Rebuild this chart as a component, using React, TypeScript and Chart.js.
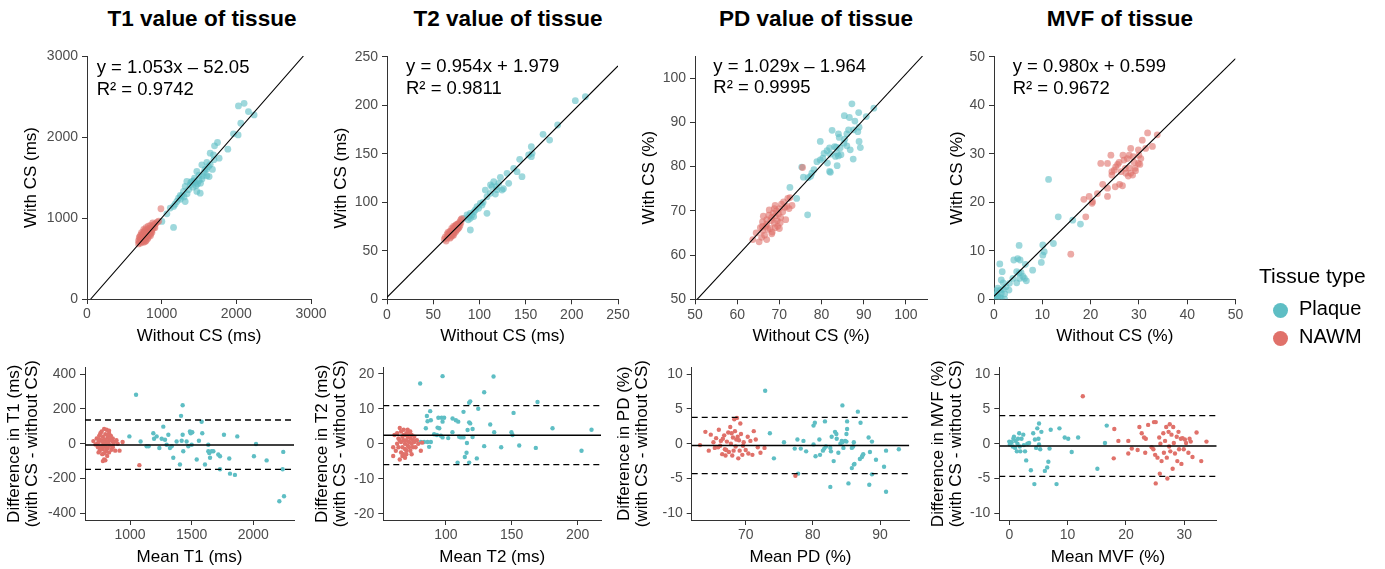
import React, { useEffect, useRef } from "react";
import { Chart, registerables } from "chart.js";
Chart.register(...registerables);

const FONT = "'Liberation Sans', Arial, Helvetica, sans-serif";
const PLAQUE = "rgb(94,190,196)";
const NAWM = "rgb(224,113,106)";
const PLAQUE_A = "rgba(94,190,196,0.6)";
const NAWM_A = "rgba(224,113,106,0.6)";

// ---------- titles / labels ----------
const panelTitles = ["T1 value of tissue", "T2 value of tissue", "PD value of tissue", "MVF of tissue"];
const scatterXTitles = ["Without CS (ms)", "Without CS (ms)", "Without CS (%)", "Without CS (%)"];
const scatterYTitles = ["With CS (ms)", "With CS (ms)", "With CS (%)", "With CS (%)"];
const baXTitles = ["Mean T1 (ms)", "Mean T2 (ms)", "Mean PD (%)", "Mean MVF (%)"];
const baYTitles = [
  ["Difference in T1 (ms)", "(with CS - without CS)"],
  ["Difference in T2 (ms)", "(with CS - without CS)"],
  ["Difference in PD (%)", "(with CS - without CS)"],
  ["Difference in MVF (%)", "(with CS - without CS)"],
];
const legendTitle = "Tissue type";
const legendLabels = ["Plaque", "NAWM"];

// ---------- ticks ----------
const t1ScatterTicks = [0, 1000, 2000, 3000];
const t2ScatterTicks = [0, 50, 100, 150, 200, 250];
const pdScatterTicks = [50, 60, 70, 80, 90, 100];
const mvfScatterTicks = [0, 10, 20, 30, 40, 50];
const t1BaXTicks = [1000, 1500, 2000];
const t1BaYTicks = [-400, -200, 0, 200, 400];
const t2BaXTicks = [100, 150, 200];
const t2BaYTicks = [-20, -10, 0, 10, 20];
const pdBaXTicks = [70, 80, 90];
const mvfBaXTicks = [0, 10, 20, 30];
const pctBaYTicks = [-10, -5, 0, 5, 10];

// ---------- regression fits ----------
const fitSlopes = [1.053, 0.954, 1.029, 0.98];
const fitIntercepts = [-52.05, 1.979, -1.964, 0.599];
const fitR2 = ["0.9742", "0.9811", "0.9995", "0.9672"];

// ---------- Bland-Altman stats ----------
const baMean = [-7, 2.45, -0.26, -0.33];
const baUpper = [136, 10.9, 3.79, 4.03];
const baLower = [-147, -5.95, -4.3, -4.68];

// ---------- T1 scatter ----------
const t1ScatterPlaque = [
  [2028, 2384], [2104, 2416], [2162, 2314], [2238, 2273], [2060, 2170], [1962, 2039], [2024, 2026], [1886, 1850],
  [1748, 1932], [1708, 1891], [1650, 1800], [1770, 1739], [1694, 1780], [1605, 1685], [1538, 1656], [1627, 1636],
  [1569, 1562], [1605, 1521], [1636, 1512], [1471, 1574], [1440, 1492], [1404, 1451], [1337, 1451], [1315, 1389],
  [1382, 1410], [1471, 1328], [1516, 1307], [1292, 1328], [1270, 1274], [1226, 1245], [1204, 1204], [1315, 1204],
  [1159, 1143], [1115, 1122], [1070, 1052], [1003, 958], [1159, 884], [1500, 1460], [1520, 1430], [1480, 1420],
  [1450, 1440], [1540, 1480], [1420, 1380], [1360, 1350], [1340, 1300], [1300, 1260], [1250, 1230], [1580, 1600],
  [1650, 1660], [1700, 1720], [1550, 1520], [1460, 1400], [1390, 1440], [1600, 1600], [1680, 1600], [1250, 1280],
  [1180, 1170], [1430, 1460], [1500, 1530],
];
const t1ScatterNawm = [
  [700, 700], [720, 690], [690, 720], [740, 710], [760, 700], [710, 740], [730, 760], [750, 740], [770, 730],
  [780, 760], [760, 780], [740, 800], [720, 790], [800, 770], [790, 800], [810, 790], [770, 820], [800, 830],
  [820, 810], [830, 840], [780, 850], [760, 830], [750, 790], [840, 820], [850, 860], [860, 880], [870, 850],
  [880, 900], [900, 920], [920, 930], [940, 950], [910, 880], [830, 870], [810, 860], [790, 720], [820, 760],
  [850, 800], [700, 760], [730, 820], [760, 860], [790, 880], [820, 900], [850, 910], [880, 940], [960, 960],
  [770, 770], [740, 740], [800, 800], [830, 790], [860, 830], [880, 870], [900, 890], [720, 730], [690, 680],
  [710, 770], [780, 710], [850, 780], [870, 820], [760, 750], [810, 740], [990, 1114],
];

// ---------- T2 scatter ----------
const t2ScatterPlaque = [
  [203.8, 204.7], [214.7, 208.8], [184.7, 179.6], [168.9, 170], [176, 164.1], [156.2, 157.3], [157, 150.4],
  [153.3, 148.7], [156.2, 147], [143.6, 144.2], [137.1, 135], [140.7, 131.5], [129.9, 129.8], [131.7, 119.5],
  [146.1, 126.4], [122.7, 125.7], [120.9, 119.5], [124.5, 112.6], [118.3, 116.1], [115.5, 121.2], [113.6, 116.1],
  [111.8, 109.2], [108.2, 105.8], [106.4, 112.6], [117.3, 108.5], [108.2, 88.6], [101, 98.9], [97.4, 95.5],
  [95.6, 92], [90.2, 88.6], [86.6, 86.9], [90.2, 83.4], [93.8, 85.2], [83, 83.4], [90.2, 71.4], [99.2, 93.7],
  [102.8, 97.2], [92, 86.9], [88.4, 85.2], [119, 113], [126, 114], [112, 118], [104, 100], [94, 90], [88, 82],
];
const t2ScatterNawm = [
  [62, 62], [64, 60], [66, 65], [68, 63], [65, 67], [67, 68], [70, 66], [69, 70], [72, 68], [71, 72], [73, 70],
  [74, 73], [75, 71], [76, 74], [77, 76], [78, 78], [79, 80], [80, 82], [74, 76], [72, 75], [70, 73], [68, 70],
  [66, 69], [63, 64], [67, 66], [69, 67], [71, 69], [73, 72], [75, 75], [77, 78], [78, 74], [76, 72], [74, 69],
  [72, 66], [70, 68], [68, 66], [65, 63], [80, 79], [79, 76], [81, 83], [73, 74], [75, 77], [70, 70], [72, 71],
  [76, 77], [71, 66], [69, 64], [77, 73],
];

// ---------- PD scatter ----------
const pdScatterPlaque = [
  [87.2, 94.2], [85.4, 91.5], [86.6, 91.1], [88.8, 92.2], [87.9, 90.3], [92.4, 93.2], [90.6, 91.3], [88.9, 88.9],
  [88.6, 87.9], [87.6, 88.3], [86.4, 88.3], [86, 87.4], [84, 87.4], [84.2, 86.6], [82.5, 88.2], [85.5, 86.2],
  [88.9, 85.7], [89.2, 84.3], [85.3, 85.3], [83.1, 84.5], [83.5, 84.4], [84.4, 84.2], [86, 84.7], [86.8, 83.8],
  [87.5, 81.7], [81.9, 84.2], [81.3, 83.6], [80.6, 83], [82.1, 82.8], [83.7, 83], [84, 82.4], [84.6, 82.7],
  [79.7, 85.7], [80.3, 81.9], [83.3, 82.3], [81.4, 80.8], [79.7, 81.5], [78.9, 81.1], [83.7, 80.2], [81.9, 78.9],
  [82.1, 78.7], [78.2, 79.3], [77.7, 78.5], [77.4, 77.8], [76.8, 77.5], [75.3, 79.9], [75.7, 77.6], [72.5, 75.3],
  [74.1, 72.8], [76.7, 69.1],
];
const pdScatterNawm = [
  [63.7, 63.5], [64.5, 65], [65.2, 63], [65.5, 66.2], [66, 65.5], [66, 67.5], [66.5, 64.5], [66.8, 66.5], [67, 68],
  [67, 67], [67.3, 65.8], [67.5, 69], [67.8, 66], [68, 67.8], [68.2, 68.5], [68.3, 65.2], [68.5, 69.5], [68.8, 67.2],
  [69, 68.8], [69, 66.2], [69.3, 70], [69.5, 67.8], [69.8, 69.3], [70, 66], [70, 70.5], [70.3, 68.5], [70.5, 71.5],
  [70.8, 69.8], [71, 72], [71.3, 70.8], [71.5, 68], [71.8, 71], [72, 72.8], [72.3, 70.5], [72.5, 73], [73, 71.2],
  [66.2, 68.8], [67.6, 70.2], [68.8, 70.5], [69.6, 66.5], [65.8, 64], [70.2, 67.3], [68.2, 64.8], [67, 63.5],
  [66, 66.5], [69, 71.2], [75.5, 79.8],
];

// ---------- MVF scatter ----------
const mvfScatterPlaque = [
  [11.3, 24.7], [13.3, 17], [16.3, 16.3], [17.9, 15.5], [10.1, 11.2], [10.4, 9.8], [10.1, 9.1], [9.8, 7.6],
  [12.3, 11.5], [5.2, 11.1], [1.2, 7.3], [4.1, 8.1], [4.9, 8.4], [5.4, 8.1], [6.5, 7.2], [8, 6], [1.7, 5.7],
  [4.7, 5.7], [5.2, 5.4], [5.6, 5.5], [6, 4.7], [6.3, 4.3], [6.7, 3.8], [5.3, 4.3], [4.7, 3.4], [3.9, 4.3],
  [1.5, 4], [1.9, 3.4], [2.5, 2.6], [3.2, 3.3], [3.1, 1.9], [2.2, 1.1], [1.5, 1.2], [0.8, 2.3], [0.5, 1.8],
  [0.3, 0.9], [0.8, 0.5], [1.2, 0.4], [0.5, 0.2], [1.5, 0.2], [2.2, 0.05], [0.1, 0.5], [0.7, 1.2], [1.3, 1.9],
  [1.9, 2.1],
];
const mvfScatterNawm = [
  [15.9, 9.3], [18.6, 20.6], [19, 17], [19.7, 21.2], [20.4, 20.1], [20.3, 19.8], [21.4, 21.8], [22.5, 23.7],
  [22.1, 28], [23.5, 28], [23.5, 22.9], [23.5, 21.2], [24.2, 29.7], [24.4, 26.3], [24.4, 25.6], [24.9, 26.6],
  [25.1, 23.2], [25.2, 27.3], [25.6, 27.8], [25.9, 28.2], [26.3, 26.3], [26, 23.7], [26.6, 23.4], [26.7, 29.7],
  [26.9, 28.7], [27.3, 26], [27.6, 29], [28, 27.1], [28.3, 26], [28.3, 31.1], [28.8, 29.4], [29, 28.2], [29.2, 27],
  [29.3, 26.5], [29.9, 30.8], [30, 29.7], [30.4, 29], [30.7, 32.8], [29.9, 28], [28.7, 25.6], [27.8, 25.4],
  [30.2, 27.8], [31.4, 31.1], [31.8, 34.3], [32.8, 31.5], [33.8, 33.9], [28, 29.7], [27.2, 27],
];

// ---------- T1 Bland-Altman ----------
const t1BaPlaque = [
  [995, 42], [1086, 13], [1049, 281], [1135, -15], [1151, -15], [1189, 60], [1195, 28], [1216, 42], [1238, -25],
  [1270, 98], [1257, 28], [1284, 23], [1311, 51], [1297, -6], [1324, -25], [1338, -15], [1351, -81], [1378, 13],
  [1405, -119], [1414, 160], [1427, 221], [1427, 51], [1419, 17], [1432, -43], [1459, 13], [1473, -15], [1486, 70],
  [1492, 60], [1505, 66], [1500, -6], [1541, -91], [1559, 17], [1581, 126], [1586, 60], [1608, -119], [1635, -6],
  [1635, -43], [1643, -53], [1649, -81], [1662, -43], [1676, -43], [1716, -62], [1730, -72], [1762, 51],
  [1730, -147], [1805, -85], [1811, -172], [1851, -179], [1870, 42], [2005, -72], [2022, -2], [2108, -96],
  [2238, -147], [2243, -47], [2211, -330], [2249, -302],
];
const t1BaNawm = [
  [703, 15], [720, -5], [730, 30], [740, -20], [745, 10], [750, 45], [755, -40], [760, 60], [765, 20], [770, -10],
  [770, 70], [775, -60], [780, 40], [780, -30], [785, 5], [790, 85], [790, -90], [795, 25], [800, -15], [800, 55],
  [805, -45], [810, 10], [810, 80], [815, -70], [820, 35], [820, -25], [825, 0], [830, 60], [830, -50], [835, 20],
  [840, -10], [845, 45], [850, -35], [855, 15], [860, 30], [865, -5], [870, 10], [880, -40], [890, 20], [900, 0],
  [915, -40], [940, 10], [735, 0], [760, -25], [790, -55], [815, 50], [750, 25], [775, 15], [795, -5], [820, 15],
  [840, 25], [860, -20], [780, -100], [800, -95], [765, -15], [745, -50], [830, 75], [810, -30], [1076, -123],
];

// ---------- T2 Bland-Altman ----------
const t2BaPlaque = [
  [80.5, 17.2], [97.5, 19.3], [136.2, 19.2], [129.1, 14.7], [117.7, 11.7], [118.5, 12.1], [169.6, 11.9],
  [151.4, 8.8], [124.6, 10], [113.4, 9.1], [133.7, 5.5], [88.1, 9.3], [85.6, 7.9], [88.6, 6.7], [86.1, 6.4],
  [94.3, 7.4], [96.8, 7.4], [98.7, 7.4], [97.5, 6.3], [105.1, 7.2], [107.6, 6.7], [109.4, 6.3], [93.7, 4.6],
  [95, 4.4], [84.8, 4.4], [116.5, 3.9], [117.7, 6.1], [118.5, 5.8], [120.3, 4.2], [105, 3.3], [91.1, 2.7],
  [93.2, 2.5], [96.2, 2.3], [97.5, 1.8], [101.8, 1.6], [110.1, 2], [111.4, 1.8], [113.4, 1.8], [120.3, 1.9],
  [136.7, 3.3], [149.8, 3.3], [150.6, 2.5], [155.7, -0.5], [142, -1], [129.1, -0.7], [168.3, -1.2], [181, 4.4],
  [203, -2], [210.6, 4], [81, 0.5], [83.5, 0.5], [86.1, 0.5], [87.3, -0.9], [88.6, 0.5], [116, 0.2], [115.7, -2.6],
  [114.4, -3.8], [123.5, -4.2], [108.9, -5.4], [117.7, -5.4],
];
const t2BaNawm = [
  [60, -1], [60, -3.5], [61, 2.5], [62, -2], [63, 0], [63, 3], [64, -1], [64, 1.5], [65, -4.5], [65, 4.5],
  [66, -2.5], [66, 0.5], [66, 3.5], [67, -1], [67, 2], [68, -3], [68, 1], [68, 4], [69, -1.5], [69, 0], [69, 2.5],
  [70, -2], [70, 1], [70, 3], [71, -0.5], [71, 2], [72, -1], [72, 0.5], [72, 3], [73, -2], [73, 1.5], [74, 0],
  [74, 2.5], [75, -1], [75, 1], [76, 0.5], [76, 2], [77, -1], [78, 1], [79, 0], [81, -2], [82, 0.3], [67, -3.5],
  [70, -3], [65, 1], [74, -3], [73, 3.5], [68, 2.5], [71, 4], [69, -4],
];

// ---------- PD Bland-Altman ----------
const pdBaPlaque = [
  [72.9, 7.6], [73.6, 1.5], [74.2, -2.1], [75.7, 0.2], [77.3, -0.7], [77.7, 0.6], [77.8, -4.3], [78.2, -0.7],
  [78.6, 0.4], [79, -1.1], [80.1, 2.6], [80.3, 3], [80.1, -0.1], [80.4, -1.8], [80.97, 0.6], [81.07, -1.6],
  [81.5, -1], [81.7, -0.7], [81.8, 3.2], [81.95, -0.4], [82.6, -0.6], [82.8, 1], [82.7, -1.1], [83.1, -2.5],
  [82.6, -6.2], [83.3, 1.7], [83.5, 1.4], [83.55, 0.7], [83.8, -1.3], [84.1, 0], [84.3, 0.4], [84.4, 0.2],
  [84.55, -0.6], [84.8, 0.4], [85, 0.3], [84.4, 5.5], [85.1, 3.2], [85.1, 2.1], [85, 1.4], [85.3, -5.7],
  [85.8, -0.6], [86, -0.4], [86.1, 0.2], [86.2, -2.9], [85.8, -3.5], [86.1, -3], [86.7, 4.6], [87.1, 3],
  [87, -2.2], [87.3, -1.9], [87.4, -1.7], [87.5, -1.5], [88.3, 0.9], [88.5, -1.2], [88.8, 0.3], [88.4, -5.9],
  [88.8, -4.4], [89.4, -2.3], [90.6, -3.3], [90.9, -1], [90.9, -6.9], [92.8, -0.8],
];
const pdBaNawm = [
  [63.2, -0.2], [64, 1.7], [64.5, -1], [64.8, 1.3], [65.2, 0.2], [65.4, -0.6], [65.6, 0.8], [66, 2], [66.2, -0.3],
  [66.3, 0.4], [66.5, -1.5], [66.8, 1.2], [66.9, -0.8], [67, -1.7], [67.2, 0.3], [67.4, 1.6], [67.5, -1.2],
  [67.7, 2.4], [67.8, 0], [68, -1.7], [68.1, 0.9], [68.3, 3.5], [68.4, 1.8], [68.5, -0.4], [68.7, 3.7], [68.8, 1],
  [68.9, -2.1], [69, 0.5], [69.1, -1], [69.2, 2.9], [69.3, 1.4], [69.5, -1.6], [69.7, 0.2], [70, -0.9], [70.3, 1],
  [70.4, -1.4], [70.7, 0.4], [71, -1.6], [71.2, 1.8], [71.5, 0.6], [71.8, -0.5], [72.2, -1.3], [72.8, -0.6],
  [65.9, -0.5], [66.6, 0.7], [67.9, 1.5], [68.6, 0.6], [69.6, -0.3], [67.1, -0.9], [68.2, -1], [77.4, -4.6],
];

// ---------- MVF Bland-Altman ----------
const mvfBaPlaque = [
  [0, 0.3], [0.1, -0.1], [0.4, 0.2], [0.6, -0.4], [0.7, 0.7], [0.8, 1], [1, -0.6], [1.1, 0.4], [1.3, -1.1],
  [1.4, 0], [1.5, 0.7], [1.7, 1.5], [1.8, -0.4], [1.9, -1.1], [2.1, 0.7], [2.4, 1.3], [2.5, -0.2], [2.7, -1.1],
  [2.9, -2.4], [3.1, 0], [3.4, 0.1], [3.7, -3.8], [4.1, 1.5], [4.3, -5.8], [4.4, 0.6], [4.6, -0.6], [4.8, 2.2],
  [5.1, 2.9], [5, 0.7], [5.1, -0.1], [5.3, -0.8], [5.5, 1.7], [6.1, -3.9], [6.5, -3.4], [6.7, -2.6], [6.9, -0.7],
  [7.1, 2], [8.6, 2.2], [8.1, -5.8], [9.5, 0.9], [10.1, 0.7], [10.7, -1.2], [11.8, 0.9], [15.1, -3.6],
  [16.4, 0.1], [16.7, 2.6],
];
const mvfBaNawm = [
  [12.6, 6.8], [18, 2.1], [17.9, -2.1], [18.7, 0.4], [20.4, 0.4], [20.4, -1.4], [21, -0.7], [22, -0.9], [22.3, 2.4],
  [22.7, 1.5], [23.1, 0.9], [23.4, 0.7], [23.3, -1.3], [23.8, 2.7], [24.4, -0.5], [24.8, 3.1], [25.1, 3.1],
  [24.7, -0.8], [25, -1.6], [25.1, -5.7], [25.4, -2], [25.7, 0.9], [25.8, -4.3], [25.9, 0], [26.1, -2.5],
  [26.4, 1.5], [26.5, -1.3], [26.7, 0.4], [26.9, 2.4], [27, -2], [27.1, -5], [27.3, 1.7], [27.4, -0.4], [27.5, 2.8],
  [27.6, -1.1], [27.8, 1.3], [28, -3.6], [28.1, 2.4], [28.2, 0.1], [28.4, -1.4], [28.7, 1], [28.8, -2.5], [29, 1.7],
  [29.1, -0.8], [29.4, 0.7], [29.5, -2.9], [29.7, 0.8], [29.9, -0.8], [30.1, 0.6], [30.3, 0.1], [30.7, -1.3],
  [30.9, 0.7], [31.1, 0.3], [31.4, -1.9], [32.1, 1.6], [32.9, -2.5], [33.8, 0.3],
];

// ---------- layout ----------
const TITLE_SIZE = 17;
const TICK_SIZE = 14;

type PanelCfg = {
  kind: "scatter" | "ba";
  idx: number;
  cx: number; cy: number; cw: number; ch: number;
  L: number; R: number; T: number; B: number;
  xMin: number; xMax: number; yMin: number; yMax: number;
  xTicks: number[]; yTicks: number[];
  plaque: number[][]; nawm: number[][];
  yTitleX: number; xTitleY: number;
  eqDx?: number; eqDy?: number;
};

const panels: PanelCfg[] = [
  { kind: "scatter", idx: 0, cx: 0, cy: 40, cw: 340, ch: 310, L: 87, R: 311, T: 56, B: 299, xMin: 0, xMax: 3000, yMin: 0, yMax: 3000, xTicks: t1ScatterTicks, yTicks: t1ScatterTicks, plaque: t1ScatterPlaque, nawm: t1ScatterNawm, yTitleX: 31.7, xTitleY: 336, eqDx: 9.7, eqDy: 17.3 },
  { kind: "scatter", idx: 1, cx: 320, cy: 40, cw: 320, ch: 310, L: 387, R: 618, T: 56.7, B: 299.3, xMin: 0, xMax: 250, yMin: 0, yMax: 250, xTicks: t2ScatterTicks, yTicks: t2ScatterTicks, plaque: t2ScatterPlaque, nawm: t2ScatterNawm, yTitleX: 341.7, xTitleY: 336, eqDx: 19, eqDy: 15.6 },
  { kind: "scatter", idx: 2, cx: 630, cy: 40, cw: 320, ch: 310, L: 695, R: 927, T: 56, B: 299.3, xMin: 50, xMax: 105, yMin: 50, yMax: 105, xTicks: pdScatterTicks, yTicks: pdScatterTicks, plaque: pdScatterPlaque, nawm: pdScatterNawm, yTitleX: 649.2, xTitleY: 336, eqDx: 18.3, eqDy: 15.7 },
  { kind: "scatter", idx: 3, cx: 930, cy: 40, cw: 330, ch: 310, L: 994, R: 1235.5, T: 56.7, B: 299.3, xMin: 0, xMax: 50, yMin: 0, yMax: 50, xTicks: mvfScatterTicks, yTicks: mvfScatterTicks, plaque: mvfScatterPlaque, nawm: mvfScatterNawm, yTitleX: 957.5, xTitleY: 336, eqDx: 18.7, eqDy: 15.6 },
  { kind: "ba", idx: 0, cx: 0, cy: 355, cw: 320, ch: 214, L: 85, R: 294, T: 365, B: 520, xMin: 635, xMax: 2330, yMin: -438, yMax: 438, xTicks: t1BaXTicks, yTicks: t1BaYTicks, plaque: t1BaPlaque, nawm: t1BaNawm, yTitleX: 14, xTitleY: 557 },
  { kind: "ba", idx: 1, cx: 310, cy: 355, cw: 310, ch: 214, L: 383.3, R: 601, T: 365, B: 520, xMin: 52.5, xMax: 217.8, yMin: -21.8, yMax: 21.8, xTicks: t2BaXTicks, yTicks: t2BaYTicks, plaque: t2BaPlaque, nawm: t2BaNawm, yTitleX: 322.4, xTitleY: 557 },
  { kind: "ba", idx: 2, cx: 610, cy: 355, cw: 320, ch: 214, L: 691.7, R: 909.3, T: 365, B: 520, xMin: 61.96, xMax: 94.36, yMin: -10.95, yMax: 10.95, xTicks: pdBaXTicks, yTicks: pctBaYTicks, plaque: pdBaPlaque, nawm: pdBaNawm, yTitleX: 624, xTitleY: 557 },
  { kind: "ba", idx: 3, cx: 920, cy: 355, cw: 320, ch: 214, L: 999.3, R: 1216.7, T: 365, B: 520, xMin: -1.71, xMax: 35.55, yMin: -10.95, yMax: 10.95, xTicks: mvfBaXTicks, yTicks: pctBaYTicks, plaque: mvfBaPlaque, nawm: mvfBaNawm, yTitleX: 938.3, xTitleY: 557 },
];

const eqPlugin = {
  id: "eqText",
  afterDatasetsDraw(chart: any, _args: any, opts: any) {
    if (!opts || !opts.lines) return;
    const { ctx, chartArea } = chart;
    ctx.save();
    ctx.font = `18.5px ${FONT}`;
    ctx.fillStyle = "#000";
    ctx.textBaseline = "alphabetic";
    ctx.textAlign = "left";
    opts.lines.forEach((t: string, i: number) => {
      ctx.fillText(t, chartArea.left + opts.dx, chartArea.top + opts.dy + i * 21.7);
    });
    ctx.restore();
  },
};

function toPts(arr: number[][]) {
  return arr.map(([x, y]) => ({ x, y }));
}

function buildConfig(p: PanelCfg): any {
  const isScatter = p.kind === "scatter";
  const yLines = isScatter ? [scatterYTitles[p.idx]] : baYTitles[p.idx];
  const yLH = isScatter ? 1.2 : 1.08;
  const yTitlePad = p.yTitleX - p.cx - (TITLE_SIZE * yLH) / 2;
  const xTitlePad = p.cy + p.ch - p.xTitleY - (TITLE_SIZE * 1.2) / 2;
  const xAxisH = p.cy + p.ch - p.B;
  const yAxisW = p.L - p.cx;

  const datasets: any[] = [];
  if (isScatter) {
    const m = fitSlopes[p.idx];
    const b = fitIntercepts[p.idx];
    const x0 = Math.max(p.xMin, (p.yMin - b) / m);
    const x1 = Math.min(p.xMax, (p.yMax - b) / m);
    datasets.push({
      data: [{ x: x0, y: m * x0 + b }, { x: x1, y: m * x1 + b }],
      showLine: true, pointRadius: 0, borderColor: "#000", borderWidth: 1.1,
    });
    datasets.push({ data: toPts(p.nawm), pointRadius: 3.4, borderWidth: 0, backgroundColor: NAWM_A });
    datasets.push({ data: toPts(p.plaque), pointRadius: 3.4, borderWidth: 0, backgroundColor: PLAQUE_A });
  } else {
    const hl = (v: number, dash: number[], w: number) => ({
      data: [{ x: p.xMin, y: v }, { x: p.xMax, y: v }],
      showLine: true, pointRadius: 0, borderColor: "#000", borderWidth: w, borderDash: dash,
    });
    datasets.push(hl(baMean[p.idx], [], 1.5));
    datasets.push(hl(baUpper[p.idx], [6, 4], 1.3));
    datasets.push(hl(baLower[p.idx], [6, 4], 1.3));
    datasets.push({ data: toPts(p.nawm), pointRadius: 2.2, borderWidth: 0, backgroundColor: NAWM });
    datasets.push({ data: toPts(p.plaque), pointRadius: 2.2, borderWidth: 0, backgroundColor: PLAQUE });
  }

  const common = (ticks: number[]) => ({
    type: "linear",
    afterBuildTicks: (s: any) => {
      s.ticks = ticks.map((v) => ({ value: v }));
    },
    ticks: {
      callback: (v: any) => String(v),
      color: "#4D4D4D",
      font: { family: FONT, size: TICK_SIZE },
      autoSkip: false,
      maxRotation: 0,
      minRotation: 0,
    },
    grid: { display: true, drawOnChartArea: false, drawTicks: true, tickLength: 5, color: "#333", lineWidth: 1 },
    border: { display: true, color: "#333", width: 1 },
  });

  const xBase = common(p.xTicks);
  const yBase = common(p.yTicks);

  return {
    type: "scatter",
    data: { datasets },
    plugins: [eqPlugin],
    options: {
      responsive: false,
      animation: false,
      events: [],
      layout: { padding: { left: 0, top: p.T - p.cy, right: p.cx + p.cw - p.R, bottom: 0 } },
      plugins: {
        legend: { display: false },
        tooltip: { enabled: false },
        eqText: isScatter
          ? {
              lines: [
                `y = ${fitSlopes[p.idx].toFixed(3)}x ${fitIntercepts[p.idx] < 0 ? "–" : "+"} ${Math.abs(fitIntercepts[p.idx])}`,
                `R² = ${fitR2[p.idx]}`,
              ],
              dx: p.eqDx,
              dy: p.eqDy,
            }
          : {},
      },
      scales: {
        x: {
          ...xBase,
          position: "bottom",
          min: p.xMin,
          max: p.xMax,
          ticks: { ...xBase.ticks, padding: 2 },
          afterFit: (s: any) => {
            s.height = xAxisH;
          },
          title: {
            display: true,
            text: isScatter ? scatterXTitles[p.idx] : baXTitles[p.idx],
            color: "#000",
            font: { family: FONT, size: TITLE_SIZE, lineHeight: 1.2 },
            padding: { top: 0, bottom: xTitlePad },
          },
        },
        y: {
          ...yBase,
          position: "left",
          min: p.yMin,
          max: p.yMax,
          ticks: { ...yBase.ticks, padding: 4 },
          afterFit: (s: any) => {
            s.width = yAxisW;
          },
          title: {
            display: true,
            text: yLines.length > 1 ? yLines : yLines[0],
            color: "#000",
            font: { family: FONT, size: TITLE_SIZE, lineHeight: yLH },
            padding: { top: yTitlePad, bottom: 0 },
          },
        },
      },
    },
  };
}

function Panel({ p }: { p: PanelCfg }) {
  const ref = useRef<HTMLCanvasElement | null>(null);
  useEffect(() => {
    if (!ref.current) return;
    const chart = new Chart(ref.current, buildConfig(p));
    return () => chart.destroy();
  }, [p]);
  return (
    <canvas
      ref={ref}
      width={p.cw}
      height={p.ch}
      style={{ position: "absolute", left: p.cx, top: p.cy, width: p.cw, height: p.ch }}
    />
  );
}

const titleCenters = [202, 508, 816, 1120];

export default function App() {
  return (
    <div style={{ position: "absolute", left: 0, top: 0, width: 1385, height: 569, background: "#fff", overflow: "hidden", fontFamily: FONT }}>
      {panels.map((p, i) => (
        <Panel key={i} p={p} />
      ))}
      {panelTitles.map((t, i) => (
        <div
          key={t}
          style={{
            position: "absolute", left: titleCenters[i] - 150, width: 300, top: 6, height: 26,
            lineHeight: "26px", textAlign: "center", fontSize: 22.5, fontWeight: "bold", color: "#000", whiteSpace: "nowrap",
          }}
        >
          {t}
        </div>
      ))}
      <div style={{ position: "absolute", left: 1259, top: 263.8, lineHeight: "24px", fontSize: 21, color: "#000", whiteSpace: "nowrap" }}>
        {legendTitle}
      </div>
      {legendLabels.map((lab, i) => (
        <React.Fragment key={lab}>
          <div
            style={{
              position: "absolute", left: 1280 - 7.5, top: (i === 0 ? 310 : 338.3) - 7.5, width: 15, height: 15,
              borderRadius: "50%", background: i === 0 ? PLAQUE : NAWM,
            }}
          />
          <div
            style={{
              position: "absolute", left: 1299, top: i === 0 ? 295.8 : 324.2, lineHeight: "24px", fontSize: 20,
              color: "#000", whiteSpace: "nowrap",
            }}
          >
            {lab}
          </div>
        </React.Fragment>
      ))}
    </div>
  );
}
